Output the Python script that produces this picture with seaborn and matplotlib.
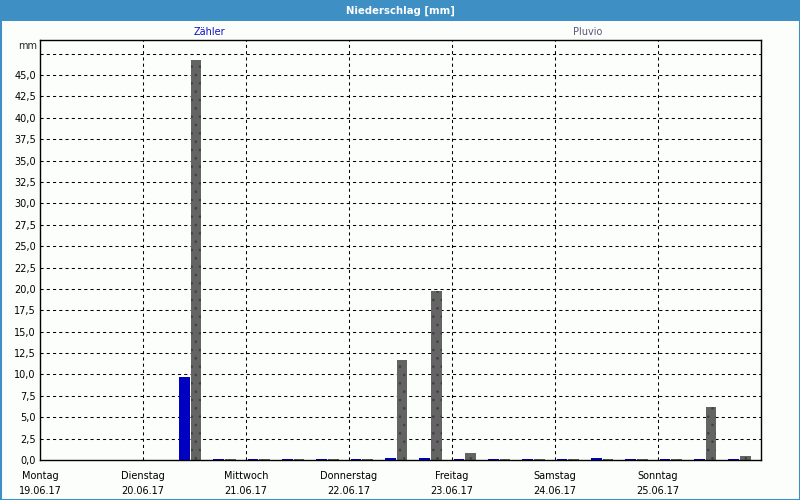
import numpy as np
import pandas as pd
import matplotlib
matplotlib.use("Agg")
import matplotlib.pyplot as plt
from matplotlib.patches import Rectangle
import seaborn as sns

# ---- data ----
days = ["Montag", "Dienstag", "Mittwoch", "Donnerstag", "Freitag", "Samstag", "Sonntag"]
dates = ["19.06.17", "20.06.17", "21.06.17", "22.06.17", "23.06.17", "24.06.17", "25.06.17"]
times = ["2017-06-20 11:00", "2017-06-20 19:00",
         "2017-06-21 03:00", "2017-06-21 11:00", "2017-06-21 19:00",
         "2017-06-22 03:00", "2017-06-22 11:00", "2017-06-22 19:00",
         "2017-06-23 03:00", "2017-06-23 11:00", "2017-06-23 19:00",
         "2017-06-24 03:00", "2017-06-24 11:00", "2017-06-24 19:00",
         "2017-06-25 03:00", "2017-06-25 11:00", "2017-06-25 19:00"]
zaehler = [9.7, 0.1, 0.1, 0.1, 0.1, 0.1, 0.25, 0.25, 0.1, 0.1, 0.1, 0.1, 0.25, 0.1, 0.1, 0.1, 0.1]
pluvio = [46.8, 0.1, 0.1, 0.1, 0.1, 0.1, 11.7, 19.7, 0.8, 0.1, 0.1, 0.1, 0.1, 0.1, 0.1, 6.2, 0.5]
series = ["Zähler", "Pluvio"]
colors = {"Zähler": "#0000C0", "Pluvio": "#646464"}
start = pd.Timestamp("2017-06-19 00:00")

t = (pd.to_datetime(times) - start) / pd.Timedelta(days=1)
df = pd.DataFrame({
    "t": np.concatenate([t, t]),
    "mm": zaehler + pluvio,
    "Serie": [series[0]] * len(times) + [series[1]] * len(times),
})

# ---- figure ----
sns.set_theme(style="white")
plt.rcParams["font.family"] = ["DejaVu Sans"]
plt.rcParams["hatch.linewidth"] = 0.6
bg = "#FCFEFC"
head = "#3D8FC4"
fig = plt.figure(figsize=(8, 5), dpi=100, facecolor=bg)
ax = fig.add_axes([40 / 800, 40 / 500, 721 / 800, 420 / 500])
ax.set_facecolor(bg)

sns.barplot(data=df, x="t", y="mm", hue="Serie", hue_order=series, palette=colors,
            native_scale=True, width=0.68, gap=0.1, dodge=True, saturation=1,
            linewidth=0, legend=False, ax=ax)
for bar in ax.containers[1]:
    bar.set_hatch("..")
    bar.set_edgecolor("#404040")
    bar.set_linewidth(0)

ax.set_xlim(0, 7)
ax.set_ylim(0, 49.1)
yt = np.arange(0, 47.6, 2.5)
ax.set_yticks(yt)
ax.set_yticklabels([f"{v:.1f}".replace(".", ",") if v < 46 else "" for v in yt])
ax.set_xticks(range(7))
ax.set_xticklabels([f"{d}\n{dt}" for d, dt in zip(days, dates)], linespacing=1.6)
ax.tick_params(axis="both", length=0, labelsize=7, colors="black")
ax.tick_params(axis="x", pad=8)
ax.tick_params(axis="y", pad=3)
ax.set_xlabel("")
ax.set_ylabel("")
for v in yt[1:]:
    ax.axhline(v, color="black", lw=0.75, ls=(0, (3, 3)), zorder=0.5)
for d in range(1, 7):
    ax.axvline(d, color="black", lw=0.75, ls=(0, (3, 3)), zorder=0.5)
for s in ax.spines.values():
    s.set_color("black")
    s.set_linewidth(1)
ax.grid(False)

fig.text(37 / 800, 1 - 46 / 500, "mm", ha="right", va="center", fontsize=7)
fig.text(209 / 800, 1 - 32 / 500, series[0], ha="center", va="center", fontsize=7, color="#1010C8")
fig.text(588 / 800, 1 - 32 / 500, series[1], ha="center", va="center", fontsize=7, color="#58587A")

# header bar and frame
fig.patches.append(Rectangle((0, 1 - 21 / 500), 1, 21 / 500, transform=fig.transFigure,
                             facecolor=head, edgecolor="none", zorder=0))
fig.patches.append(Rectangle((0.5 / 800, 0.5 / 500), 799 / 800, 499 / 500, transform=fig.transFigure,
                             facecolor="none", edgecolor=head, lw=1.5, zorder=0))
fig.text(400 / 800, 1 - 10.5 / 500, "Niederschlag [mm]", ha="center", va="center",
         fontsize=7.3, fontweight="bold", color="white")

fig.savefig("out.png", dpi=100, facecolor=bg)
